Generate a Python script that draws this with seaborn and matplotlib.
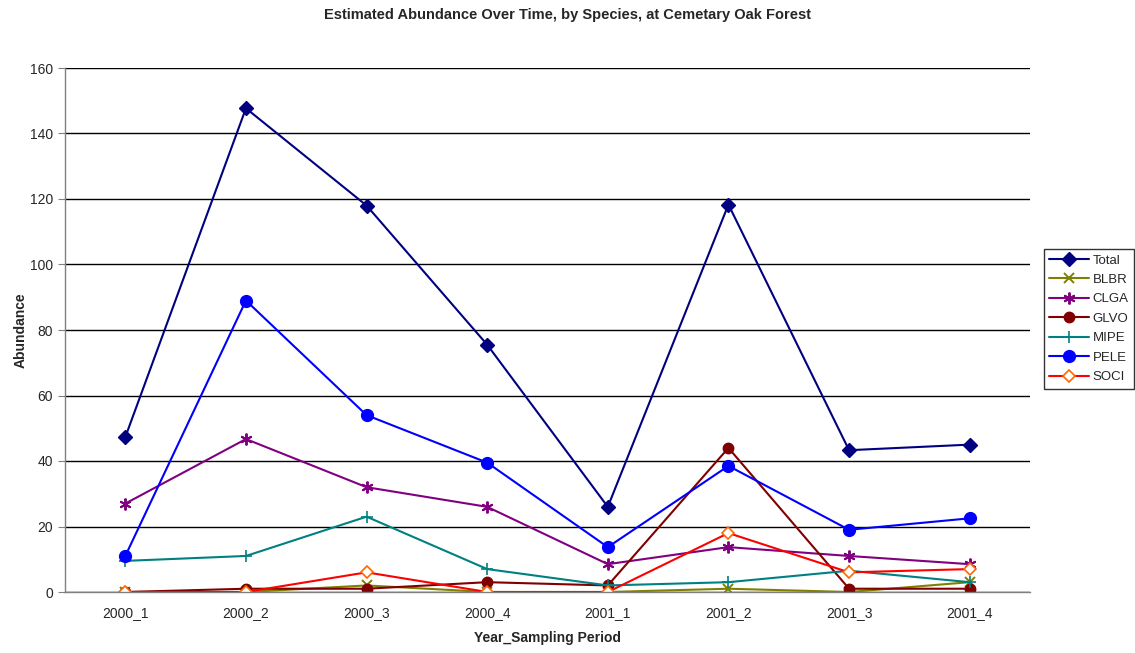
import matplotlib
matplotlib.use("Agg")
import matplotlib.pyplot as plt
from matplotlib.ticker import FixedLocator, NullFormatter
import seaborn as sns
import pandas as pd

# Sampling periods and estimated abundance per species
periods = ["2000_1", "2000_2", "2000_3", "2000_4", "2001_1", "2001_2", "2001_3", "2001_4"]
total = [47.3, 147.7, 118.0, 75.5, 26.0, 118.3, 43.3, 45.0]
blbr = [0, 0, 2, 0, 0, 1, 0, 3]
clga = [27.0, 46.7, 32.0, 26.0, 8.5, 13.7, 11.0, 8.5]
glvo = [0, 1, 1, 3, 2, 44, 1, 1]
mipe = [9.5, 11.0, 23.0, 7.0, 2.0, 3.0, 6.5, 3.0]
pele = [11.0, 89.0, 54.0, 39.5, 13.7, 38.5, 19.0, 22.5]
soci = [0, 0, 6, 0, 0, 18, 6, 7]

series_names = ["Total", "BLBR", "CLGA", "GLVO", "MIPE", "PELE", "SOCI"]
series_values = [total, blbr, clga, glvo, mipe, pele, soci]

frames = []
for name, vals in zip(series_names, series_values):
    frames.append(pd.DataFrame({"period": periods, "abundance": vals, "species": name}))
df = pd.concat(frames, ignore_index=True)

styles = {
    "Total": dict(color="#000080", marker="D", markersize=7, mfc="#000080", mec="#000080"),
    "BLBR": dict(color="#808000", marker="x", markersize=7.5, mfc="none", mec="#808000", mew=1.4),
    "CLGA": dict(color="#800080", marker=(6, 2, 0), markersize=8.5, mfc="none", mec="#800080", mew=1.4),
    "GLVO": dict(color="#800000", marker="o", markersize=7.5, mfc="#800000", mec="#800000"),
    "MIPE": dict(color="#008080", marker="+", markersize=9, mfc="none", mec="#008080", mew=1.2),
    "PELE": dict(color="#0000FF", marker="o", markersize=8.5, mfc="#0000FF", mec="#0000FF"),
    "SOCI": dict(color="#FF0000", marker="D", markersize=6, mfc="white", mec="#FF6600", mew=1.2),
}

sns.set_style("white")
plt.rcParams["font.family"] = ["Liberation Sans", "DejaVu Sans"]

fig = plt.figure(figsize=(11.35, 6.53), dpi=100)
ax = fig.add_axes([65 / 1135, 1 - 592 / 653, (1030 - 65) / 1135, (592 - 68) / 653])

for name in series_names:
    st = styles[name]
    sub = df[df["species"] == name]
    sns.lineplot(data=sub, x="period", y="abundance", ax=ax, color=st["color"],
                 linewidth=1.5, label=name, marker=st["marker"], markersize=st["markersize"],
                 markerfacecolor=st["mfc"], markeredgecolor=st["mec"],
                 markeredgewidth=st.get("mew", 1.0), sort=False)

ax.set_xlim(-0.5, len(periods) - 0.5)
ax.set_ylim(0, 160)
ax.set_yticks(range(0, 161, 20))
ax.set_xticks(range(len(periods)))
ax.set_xticklabels(periods)
ax.xaxis.set_minor_locator(FixedLocator([i - 0.5 for i in range(len(periods) + 1)]))
ax.xaxis.set_minor_formatter(NullFormatter())
ax.tick_params(axis="x", which="major", length=0, labelsize=10, pad=10)
ax.tick_params(axis="x", which="minor", length=5, color="#808080", direction="out")
ax.tick_params(axis="y", length=5, color="#808080", direction="out", labelsize=10, left=True)

ax.yaxis.grid(True, color="black", linewidth=1.0)
ax.set_axisbelow(True)
for side in ["top", "right"]:
    ax.spines[side].set_visible(False)
for side in ["left", "bottom"]:
    ax.spines[side].set_color("#808080")
    ax.spines[side].set_linewidth(1.0)

ax.set_xlabel("Year_Sampling Period", fontsize=10, fontweight="bold", labelpad=8)
ax.set_ylabel("Abundance", fontsize=10, fontweight="bold", labelpad=2)
fig.suptitle("Estimated Abundance Over Time, by Species, at Cemetary Oak Forest",
             fontsize=10.5, fontweight="bold", x=0.5, y=0.988)

handles, labels = ax.get_legend_handles_labels()
ax.get_legend().remove()
leg = fig.legend(handles, labels, loc="upper left", bbox_to_anchor=(1044 / 1135, 1 - 249 / 653),
                 frameon=True, fancybox=False, fontsize=9.5, handlelength=3.0,
                 borderpad=0.4, labelspacing=0.55, handletextpad=0.3, borderaxespad=0)
leg.get_frame().set_edgecolor("black")
leg.get_frame().set_linewidth(1.0)

fig.savefig("out.png", dpi=100)
